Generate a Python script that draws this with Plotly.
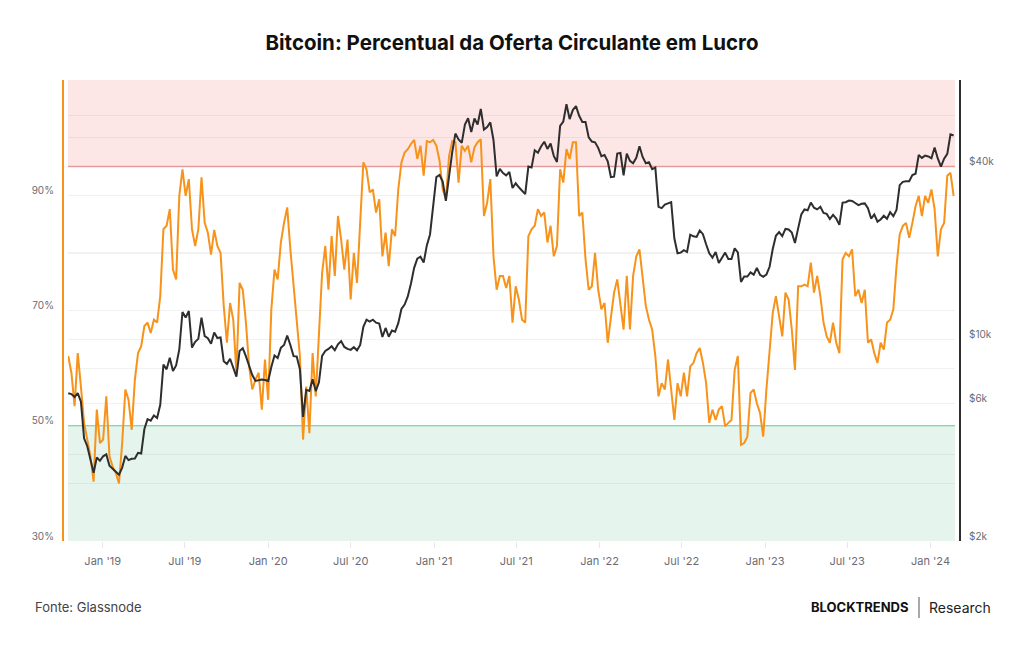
import pandas as pd
import plotly.graph_objects as go

# ---------------- data (weekly samples) ----------------
START_DATE = "2018-10-17"
STEP = "7D"

supply_in_profit_pct = [
    62.1, 59.2, 53.4, 62.6, 56.8, 50.5, 47.6, 44.7, 40.3, 52.8,
    47.0, 47.6, 55.1, 44.7, 42.9, 41.8, 40.0, 47.0, 56.3, 54.5,
    49.3, 58.0, 62.6, 63.8, 67.3, 67.9, 66.1, 68.4, 67.9, 72.5,
    84.1, 84.7, 87.6, 77.1, 75.4, 89.9, 94.5, 89.9, 92.8, 84.1,
    81.2, 84.1, 93.1, 85.2, 83.5, 79.7, 84.0, 81.2, 80.0, 70.8,
    64.4, 71.3, 68.4, 59.2, 74.8, 73.6, 67.9, 60.3, 56.3, 58.0,
    59.2, 52.8, 61.5, 54.5, 70.2, 77.1, 75.4, 81.8, 85.2, 87.9,
    80.6, 74.2, 69.0, 62.1, 47.6, 56.8, 48.7, 62.6, 55.1, 66.7,
    76.5, 81.2, 73.6, 82.9, 76.0, 86.4, 82.3, 77.1, 82.3, 71.9,
    80.0, 74.8, 85.2, 95.7, 94.5, 90.5, 91.0, 87.0, 89.3, 79.4,
    83.5, 77.7, 84.1, 82.9, 91.0, 95.7, 97.4, 98.0, 98.9, 99.6,
    96.3, 98.6, 93.4, 99.4, 99.2, 99.6, 98.6, 96.0, 91.0, 89.3,
    96.8, 99.4, 99.2, 92.2, 98.6, 97.7, 98.6, 95.7, 98.3, 99.2,
    99.7, 86.4, 88.7, 92.8, 79.4, 73.6, 76.0, 76.0, 73.9, 76.0,
    67.9, 74.2, 71.9, 68.4, 67.9, 82.9, 84.1, 84.7, 87.6, 86.4,
    87.0, 81.8, 84.7, 79.4, 81.2, 94.5, 92.2, 98.0, 96.3, 99.2,
    99.2, 86.4, 87.0, 78.9, 73.6, 74.2, 80.0, 73.6, 70.2, 71.3,
    64.4, 68.4, 73.1, 75.4, 70.8, 66.7, 76.0, 66.7, 76.0, 79.4,
    80.6, 75.4, 70.8, 68.4, 66.7, 62.1, 55.1, 57.4, 56.3, 61.5,
    56.3, 51.0, 57.4, 55.1, 59.2, 55.1, 60.3, 60.9, 62.6, 63.5,
    60.9, 57.4, 50.5, 52.8, 51.0, 52.8, 53.4, 49.9, 50.5, 51.0,
    59.7, 62.1, 46.7, 47.0, 48.1, 55.7, 56.3, 53.9, 52.2, 48.1,
    56.3, 63.8, 69.6, 72.5, 69.0, 65.5, 73.1, 71.9, 66.7, 59.7,
    74.2, 74.2, 74.5, 74.2, 78.3, 73.1, 76.0, 72.5, 67.9, 65.5,
    64.4, 67.9, 64.4, 62.6, 78.9, 80.0, 79.4, 80.6, 72.5, 73.6,
    71.3, 73.6, 64.4, 65.0, 62.6, 60.9, 64.4, 63.2, 67.9, 68.4,
    70.2, 77.7, 83.2, 84.7, 85.2, 82.6, 85.2, 88.1, 89.9, 86.4,
    89.9, 88.7, 91.0, 87.6, 79.4, 84.1, 85.2, 93.4, 93.9, 89.9,
]

btc_price_usd = [
    6520, 6480, 6330, 6530, 6100, 4550, 4270, 3830, 3450, 3900,
    3800, 3940, 4000, 3650, 3560, 3460, 3400, 3600, 3950, 3820,
    3860, 3870, 4050, 4030, 4900, 5300, 5240, 5460, 5350, 5950,
    8200, 7900, 8660, 7800, 8150, 9270, 12500, 11950, 12600, 9400,
    9850, 10080, 11950, 10300, 10140, 9700, 10600, 10150, 10200, 8430,
    8250, 8600, 8000, 7450, 9150, 9350, 8760, 8100, 7550, 7200,
    7220, 7280, 7250, 7200, 8050, 8820, 8650, 9380, 9600, 10350,
    9600, 8780, 8760, 7900, 5400, 6700, 6640, 7300, 6640, 7120,
    8800, 9150, 9300, 9500, 9200, 9650, 9900, 9450, 9300, 9230,
    9430, 9200, 9600, 11100, 11750, 11570, 11750, 11480, 11400, 10230,
    11000, 10250, 10780, 10670, 11430, 12800, 13270, 14150, 15700, 17800,
    19150, 19450, 18550, 21300, 23250, 28900, 36800, 37400, 35500, 30400,
    37600, 44900, 52100, 49700, 48400, 56000, 58900, 52800, 58800, 56000,
    63500, 53800, 54900, 57000, 49500, 37000, 39300, 38000, 37300, 38300,
    33700, 35000, 33900, 32900, 32100, 40000, 39700, 45600, 44700, 47000,
    48800, 46100, 48100, 43600, 41500, 55400, 57400, 65900, 58500, 62900,
    64900, 60100, 57200, 57200, 50600, 48900, 48600, 46500, 43500, 43900,
    41700, 36800, 36900, 44400, 44600, 37300, 44400, 41900, 41100, 42900,
    47100, 43200, 41100, 41400, 39200, 39700, 29000, 28700, 29500, 29800,
    30100, 22500, 20000, 20100, 20500, 20200, 23200, 22900, 22800, 24000,
    23300, 21500, 20000, 19300, 20200, 18500, 19400, 20100, 19100, 19100,
    20800, 20150, 15900, 16600, 16600, 17150, 16850, 17800, 16820, 16550,
    16850, 17950, 20700, 23000, 23700, 22950, 24300, 24200, 23600, 21700,
    24400, 27300, 28400, 28200, 30000, 28800, 28400, 29000, 27600, 27400,
    26300, 27200, 26400, 25100, 30000, 30100, 30500, 30400, 29900, 29400,
    29700, 29800, 28700, 26400, 27300, 25750, 26200, 27000, 26350, 27800,
    26900, 28300, 34500, 35400, 35600, 35600, 37400, 37800, 43900, 42900,
    43700, 43400, 42800, 46600, 42700, 40000, 42600, 44300, 51800, 51300,
]

x_tick_dates = ["2019-01-01", "2019-07-01", "2020-01-01", "2020-07-01", "2021-01-01",
                "2021-07-01", "2022-01-01", "2022-07-01", "2023-01-01", "2023-07-01",
                "2024-01-01"]
x_tick_labels = ["Jan '19", "Jul '19", "Jan '20", "Jul '20", "Jan '21", "Jul '21",
                 "Jan '22", "Jul '22", "Jan '23", "Jul '23", "Jan '24"]

pct_tick_vals = [30, 40, 50, 60, 70, 80, 90, 100]
pct_tick_labels = ["30%", "", "50%", "", "70%", "", "90%", ""]

price_tick_vals = [2000, 4000, 6000, 10000, 20000, 40000, 60000]
price_tick_labels = ["$2k", "", "$6k", "$10k", "", "$40k", ""]

overheated_level = 95
undervalued_level = 50

dates = pd.date_range(START_DATE, periods=len(supply_in_profit_pct), freq=STEP)

# ---------------- figure ----------------
ORANGE = "#f7931a"
DARK = "#2e2e2e"
FONT = "Inter"

fig = go.Figure()
fig.add_trace(go.Scatter(x=dates, y=supply_in_profit_pct, mode="lines",
                         line=dict(color=ORANGE, width=2), yaxis="y",
                         name="% Oferta em Lucro", hoverinfo="skip"))
fig.add_trace(go.Scatter(x=dates, y=btc_price_usd, mode="lines",
                         line=dict(color=DARK, width=2), yaxis="y2",
                         name="Preço BTC", hoverinfo="skip"))

grid = "rgba(0,0,0,0.055)"
tickfont = dict(family=FONT, size=10, color="#6b6b75")

fig.update_layout(
    width=1024, height=645,
    margin=dict(l=63, r=64, t=80, b=104),
    paper_bgcolor="white", plot_bgcolor="white",
    showlegend=False,
    font=dict(family=FONT),
    title=dict(text="<b>Bitcoin: Percentual da Oferta Circulante em Lucro</b>",
               font=dict(family=FONT, size=20.5, color="#111111"),
               x=0.5, xref="container", xanchor="center",
               y=1 - 43 / 645, yref="container", yanchor="middle"),
    xaxis=dict(type="date", domain=[5 / 897, 892 / 897],
               range=["2018-10-16 12:00", "2024-02-24"],
               tickvals=x_tick_dates, ticktext=x_tick_labels,
               showgrid=False, zeroline=False, showline=False,
               ticks="outside", ticklen=6, tickcolor="#e8e8e8", tickwidth=1,
               ticklabelstandoff=4,
               tickfont=dict(family=FONT, size=11, color="#6b6b75")),
    yaxis=dict(range=[30, 110], anchor="free", position=0,
               tickvals=pct_tick_vals, ticktext=pct_tick_labels,
               showgrid=True, gridcolor=grid, gridwidth=1, zeroline=False,
               showline=True, linecolor=ORANGE, linewidth=2,
               ticks="", ticklabelshift=-5, ticklabelstandoff=6,
               tickfont=tickfont),
    yaxis2=dict(type="log", range=[3.30103, 4.90309], overlaying="y",
                side="right", anchor="free", position=1,
                tickvals=price_tick_vals, ticktext=price_tick_labels,
                showgrid=True, gridcolor=grid, gridwidth=1, zeroline=False,
                showline=True, linecolor=DARK, linewidth=2,
                ticks="", ticklabelshift=-5, ticklabelstandoff=6,
                tickfont=tickfont),
)

# zones
fig.add_shape(type="rect", xref="x domain", yref="y", x0=0, x1=1,
              y0=overheated_level, y1=110, fillcolor="#fde6e6",
              line=dict(width=0), layer="below")
fig.add_shape(type="rect", xref="x domain", yref="y", x0=0, x1=1,
              y0=30, y1=undervalued_level, fillcolor="#e5f5ee",
              line=dict(width=0), layer="below")
fig.add_shape(type="line", xref="x domain", yref="y", x0=0, x1=1,
              y0=overheated_level, y1=overheated_level,
              line=dict(color="#f0a3a3", width=1.5), layer="below")
fig.add_shape(type="line", xref="x domain", yref="y", x0=0, x1=1,
              y0=undervalued_level, y1=undervalued_level,
              line=dict(color="#9fdbbf", width=1.5), layer="below")

# footer
def px_x(px):
    return (px - 63) / 897

def px_y(py):
    return (541 - py) / 461

fig.add_annotation(text="Fonte: Glassnode", xref="paper", yref="paper",
                   x=px_x(33), y=px_y(607), xanchor="left", yanchor="middle",
                   showarrow=False, font=dict(family=FONT, size=13, color="#444444"))
fig.add_annotation(text="<b>BLOCKTRENDS</b>", xref="paper", yref="paper",
                   x=px_x(911), y=px_y(607), xanchor="right", yanchor="middle",
                   showarrow=False, font=dict(family=FONT, size=13, color="#111111"))
fig.add_annotation(text="Research", xref="paper", yref="paper",
                   x=px_x(927), y=px_y(607), xanchor="left", yanchor="middle",
                   showarrow=False, font=dict(family=FONT, size=14, color="#222222"))
fig.add_shape(type="line", xref="paper", yref="paper",
              x0=px_x(919), x1=px_x(919), y0=px_y(597), y1=px_y(618),
              line=dict(color="#555555", width=1))

fig.write_html("out.html")
